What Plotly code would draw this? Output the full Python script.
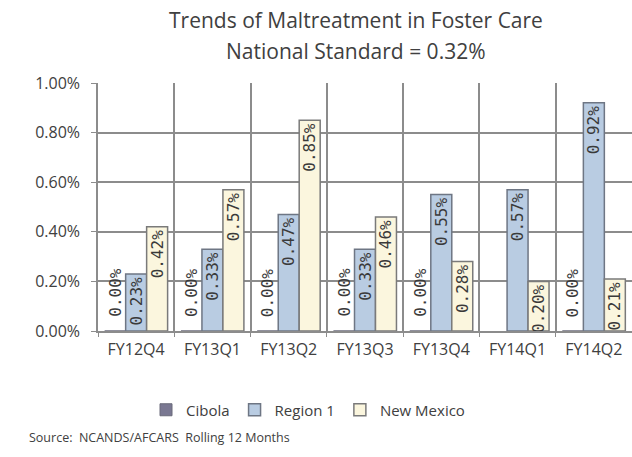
import plotly.graph_objects as go

categories = ["FY12Q4", "FY13Q1", "FY13Q2", "FY13Q3", "FY13Q4", "FY14Q1", "FY14Q2"]
cibola = [0.0, 0.0, 0.0, 0.0, 0.0, None, 0.0]
region1 = [0.23, 0.33, 0.47, 0.33, 0.55, 0.57, 0.92]
new_mexico = [0.42, 0.57, 0.85, 0.46, 0.28, 0.20, 0.21]
y_ticks = [0.0, 0.2, 0.4, 0.6, 0.8, 1.0]

W, H = 632, 457
M_L, M_R, M_T, M_B = 98, 0, 83, 126
BARGAP = 0.175
PLOT_W = W - M_L - M_R
PLOT_H = H - M_T - M_B


def frac(vals):
    return [None if v is None else v / 100 for v in vals]


def labels(vals):
    return ["" if v is None else f"{v:.2f}%" for v in vals]


label_font = dict(family="DejaVu Sans Mono", size=16, color="#3a3a3a")
grid = "#8c8c8c"
text_col = "#404040"

fig = go.Figure()
fig.add_trace(go.Bar(
    name="Cibola", x=categories, y=frac(cibola),
    marker=dict(color="#7a7892", line=dict(color="#6a6a7a", width=1)),
))
fig.add_trace(go.Bar(
    name="Region 1", x=categories, y=frac(region1), text=labels(region1),
    textposition="inside", insidetextanchor="end", textangle=-90,
    textfont=label_font, constraintext="none",
    marker=dict(color="#b9cce2", line=dict(color="#6e7684", width=1.5)),
))
fig.add_trace(go.Bar(
    name="New Mexico", x=categories, y=frac(new_mexico), text=labels(new_mexico),
    textposition="inside", insidetextanchor="end", textangle=-90,
    textfont=label_font, constraintext="none",
    marker=dict(color="#fbf6de", line=dict(color="#7a7a7a", width=1.5)),
))

# data labels for the (zero-height) Cibola bars, anchored on the bar through the axes
bar_w = PLOT_W / len(categories) * (1 - BARGAP) / 3
annotations = []
for cat, v, lab in zip(categories, frac(cibola), labels(cibola)):
    if v is None:
        continue
    annotations.append(dict(
        text=lab, x=cat, y=v, xref="x", yref="y", xshift=-bar_w, yshift=12,
        xanchor="center", yanchor="bottom", textangle=-90, showarrow=False,
        font=label_font,
    ))

annotations += [
    dict(text="Trends of Maltreatment in Foster Care",
         xref="paper", yref="paper", x=(356 - M_L) / PLOT_W, y=(H - M_B - 20) / PLOT_H,
         xanchor="center", yanchor="middle", showarrow=False,
         font=dict(family="Open Sans", size=21, color=text_col)),
    dict(text="National Standard = 0.32%",
         xref="paper", yref="paper", x=(356 - M_L) / PLOT_W, y=(H - M_B - 51) / PLOT_H,
         xanchor="center", yanchor="middle", showarrow=False,
         font=dict(family="Open Sans", size=21, color=text_col)),
    dict(text="Source:  NCANDS/AFCARS  Rolling 12 Months",
         xref="paper", yref="paper", x=(27 - M_L) / PLOT_W, y=(H - M_B - 437) / PLOT_H,
         xanchor="left", yanchor="middle", showarrow=False,
         font=dict(family="Open Sans", size=12.5, color=text_col)),
]

fig.update_layout(
    width=W, height=H,
    margin=dict(l=M_L, r=M_R, t=M_T, b=M_B),
    paper_bgcolor="white", plot_bgcolor="white",
    barmode="group", bargap=BARGAP, bargroupgap=0,
    font=dict(family="Open Sans", color=text_col),
    xaxis=dict(
        type="category", tickson="boundaries", showgrid=True, gridcolor=grid,
        gridwidth=1.5, showline=True, linecolor=grid, linewidth=1.5,
        ticks="outside", ticklen=4, tickcolor=grid, ticklabelstandoff=3,
        tickfont=dict(family="Open Sans", size=16, color=text_col),
        range=[-0.5, 6.5], automargin=False,
    ),
    yaxis=dict(
        range=[0, 0.01], tickvals=[v / 100 for v in y_ticks], tickformat=".2%",
        showgrid=True, gridcolor=grid, gridwidth=1.5, showline=True,
        linecolor=grid, linewidth=1.5, ticks="outside", ticklen=5,
        tickcolor=grid, zeroline=False, ticklabelstandoff=8, automargin=False,
        tickfont=dict(family="Open Sans", size=16, color=text_col),
    ),
    legend=dict(
        orientation="h", xref="container", x=308 / W, xanchor="center",
        yref="container", y=1 - 410 / H, yanchor="middle",
        font=dict(family="Open Sans", size=15, color=text_col),
        itemwidth=30, traceorder="normal",
    ),
    annotations=annotations,
)

fig.write_html(
    "out.html",
    config={"displayModeBar": False},
    post_script="document.body.style.margin='0px';",
)
